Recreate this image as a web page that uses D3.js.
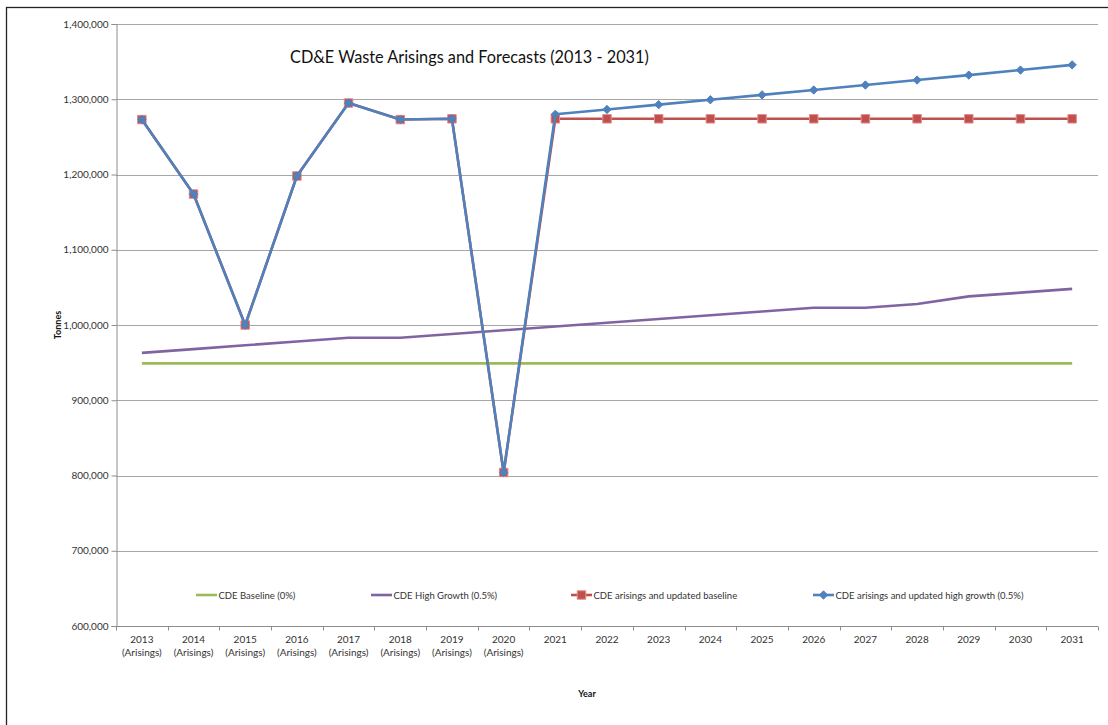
<!DOCTYPE html>
<html>
<head>
<meta charset="utf-8">
<script src="https://cdn.jsdelivr.net/npm/d3@7"></script>
<style>
  html, body { margin: 0; padding: 0; background: #fff; }
  svg { display: block; }
  text { font-family: Lato, "Open Sans", sans-serif; }
</style>
</head>
<body>
<svg id="chart" width="1108" height="725"></svg>
<script>
// Years on the category axis; the first eight are recorded arisings
const years = ["2013","2014","2015","2016","2017","2018","2019","2020","2021","2022",
               "2023","2024","2025","2026","2027","2028","2029","2030","2031"];
const arisingYears = ["2013","2014","2015","2016","2017","2018","2019","2020"];

// Tonnes per year for each scenario
const baseline = [949000,949000,949000,949000,949000,949000,949000,949000,949000,949000,
                  949000,949000,949000,949000,949000,949000,949000,949000,949000];
const highGrowth = [963000,968000,973000,978000,983000,983000,988000,993000,998000,1003000,
                    1008000,1013000,1018000,1023000,1023000,1028000,1038000,1043000,1048000];
const updatedBaseline = [1273000,1174000,1000000,1198000,1295000,1273000,1274000,804000,1274000,1274000,
                         1274000,1274000,1274000,1274000,1274000,1274000,1274000,1274000,1274000];
const updatedHighGrowth = [1273000,1174000,1000000,1198000,1295000,1273000,1274000,804000,1280000,1286400,
                           1292800,1299300,1305800,1312300,1318900,1325500,1332100,1338800,1345700];

const yTicks = [600000,700000,800000,900000,1000000,1100000,1200000,1300000,1400000];

const seriesNames = ["CDE Baseline (0%)", "CDE High Growth (0.5%)",
                     "CDE arisings and updated baseline", "CDE arisings and updated high growth (0.5%)"];

const svg = d3.select("#chart");
const plot = { left: 116, right: 1098, top: 24, bottom: 626 };

// Outer chart frame
svg.append("rect")
  .attr("x", 6.5).attr("y", 7.5).attr("width", 1120).attr("height", 740)
  .attr("fill", "none").attr("stroke", "#222").attr("stroke-width", 1.3);

const x = d3.scaleBand().domain(years).range([plot.left, plot.right]).padding(0);
const y = d3.scaleLinear().domain([600000, 1400000]).range([plot.bottom, plot.top]);
const cx = d => x(d) + x.bandwidth() / 2;

// Horizontal gridlines
svg.append("g")
  .selectAll("line")
  .data(yTicks.slice(1))
  .join("line")
  .attr("x1", plot.left).attr("x2", plot.right)
  .attr("y1", d => Math.round(y(d)) + 0.5).attr("y2", d => Math.round(y(d)) + 0.5)
  .attr("stroke", "#a6a6a6").attr("stroke-width", 1.2);

// Y axis
const yAxis = svg.append("g")
  .attr("transform", `translate(${plot.left + 0.5},0)`)
  .call(d3.axisLeft(y).tickValues(yTicks).tickSize(5).tickPadding(3)
        .tickFormat(d3.format(",")));
yAxis.select(".domain").attr("stroke", "#8c8c8c");
yAxis.selectAll(".tick line").attr("stroke", "#8c8c8c");
yAxis.selectAll(".tick text").attr("fill", "#333").attr("font-size", 10);

// X axis: ticks on category boundaries
const xAxisG = svg.append("g").attr("transform", `translate(0,${plot.bottom + 0.5})`);
xAxisG.append("line")
  .attr("x1", plot.left).attr("x2", plot.right)
  .attr("stroke", "#8c8c8c");
xAxisG.selectAll("line.tk")
  .data(years.map(d => x(d)).concat([plot.right]))
  .join("line").attr("class", "tk")
  .attr("x1", d => Math.round(d) + 0.5).attr("x2", d => Math.round(d) + 0.5)
  .attr("y1", 0).attr("y2", 4)
  .attr("stroke", "#8c8c8c");
const xl = xAxisG.selectAll("text.yr")
  .data(years)
  .join("text").attr("class", "yr")
  .attr("x", d => cx(d))
  .attr("y", 16)
  .attr("text-anchor", "middle")
  .attr("font-size", 10)
  .attr("fill", "#333");
xl.append("tspan").attr("x", d => cx(d)).text(d => d);
xl.filter(d => arisingYears.includes(d))
  .append("tspan").attr("x", d => cx(d)).attr("dy", 13).text("(Arisings)");

// Axis titles
svg.append("text")
  .attr("transform", `translate(61,${(plot.top + plot.bottom) / 2}) rotate(-90)`)
  .attr("text-anchor", "middle")
  .attr("font-size", 9).attr("font-weight", "bold").attr("fill", "#111")
  .text("Tonnes");
svg.append("text")
  .attr("x", 587).attr("y", 697)
  .attr("text-anchor", "middle")
  .attr("font-size", 9).attr("font-weight", "bold").attr("fill", "#111")
  .text("Year");

// Title
svg.append("text")
  .attr("x", 290).attr("y", 63)
  .attr("font-family", "Lato, sans-serif")
  .attr("font-size", 16.3).attr("fill", "#111")
  .text("CD&E Waste Arisings and Forecasts (2013 - 2031)");

const line = d3.line().x((d, i) => cx(years[i])).y(d => y(d));

const series = [
  { name: seriesNames[0], values: baseline,          color: "#9bbb59", marker: null },
  { name: seriesNames[1], values: highGrowth,        color: "#8064a2", marker: null },
  { name: seriesNames[2], values: updatedBaseline,   color: "#c0504d", marker: "square" },
  { name: seriesNames[3], values: updatedHighGrowth, color: "#4f81bd", marker: "diamond" }
];

const squareSym = d3.symbol().type(d3.symbolSquare).size(72);
const diamondSym = d3.symbol().type(d3.symbolDiamond2).size(44);

series.forEach(s => {
  const g = svg.append("g");
  g.append("path")
    .attr("d", line(s.values))
    .attr("fill", "none")
    .attr("stroke", s.color)
    .attr("stroke-width", 2.6)
    .attr("stroke-linejoin", "round");
  if (s.marker === "square") {
    g.selectAll("path.m").data(s.values).join("path").attr("class", "m")
      .attr("transform", (d, i) => `translate(${cx(years[i])},${y(d)})`)
      .attr("d", squareSym())
      .attr("fill", s.color).attr("stroke", "#e08c8a").attr("stroke-width", 1);
  } else if (s.marker === "diamond") {
    g.selectAll("path.m").data(s.values).join("path").attr("class", "m")
      .attr("transform", (d, i) => `translate(${cx(years[i])},${y(d)})`)
      .attr("d", diamondSym())
      .attr("fill", s.color).attr("stroke", s.color).attr("stroke-width", 1);
  }
});

// Legend
const legendX = [196, 371, 571, 813];
const legend = svg.append("g");
series.forEach((s, i) => {
  const lg = legend.append("g").attr("transform", `translate(${legendX[i]},595)`);
  lg.append("line").attr("x1", 0).attr("x2", 21).attr("y1", 0).attr("y2", 0)
    .attr("stroke", s.color).attr("stroke-width", 2.6);
  if (s.marker === "square") {
    lg.append("path").attr("transform", "translate(10.5,0)").attr("d", squareSym())
      .attr("fill", s.color).attr("stroke", "#e08c8a");
  } else if (s.marker === "diamond") {
    lg.append("path").attr("transform", "translate(10.5,0)").attr("d", diamondSym())
      .attr("fill", s.color).attr("stroke", s.color);
  }
  lg.append("text").attr("x", 22.5).attr("y", 3.5)
    .attr("font-size", 9.5).attr("fill", "#333")
    .text(s.name);
});
</script>
</body>
</html>
